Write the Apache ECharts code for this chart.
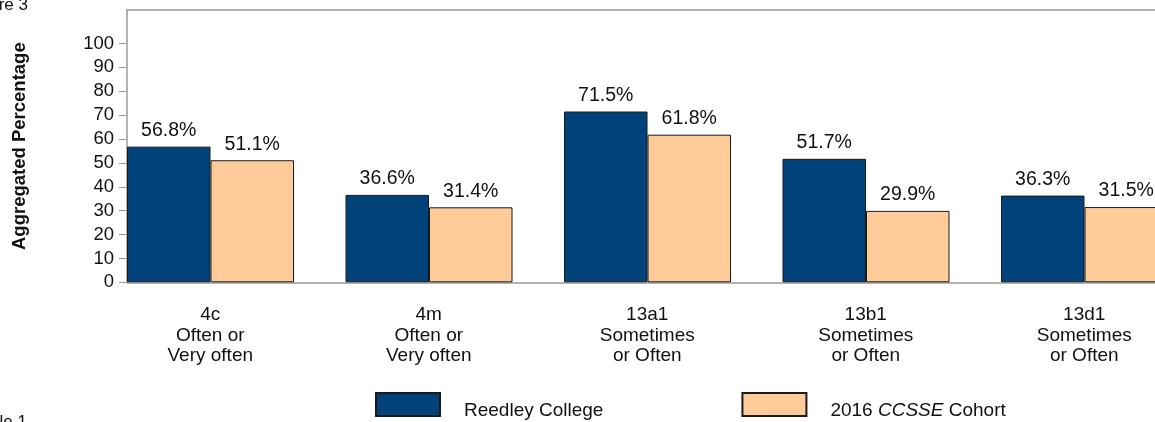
<!DOCTYPE html>
<html>
<head>
<meta charset="utf-8">
<script src="https://cdn.jsdelivr.net/npm/echarts@6/dist/echarts.min.js"></script>
<style>
html,body{margin:0;padding:0;background:#fff;}
#chart{width:1155px;height:422px;}
</style>
</head>
<body>
<div id="chart"></div>
<script>
const categories = ['4c\nOften or\nVery often', '4m\nOften or\nVery often', '13a1\nSometimes\nor Often', '13b1\nSometimes\nor Often', '13d1\nSometimes\nor Often'];
const collegeValues = [56.8, 36.6, 71.5, 51.7, 36.3];
const cohortValues = [51.1, 31.4, 61.8, 29.9, 31.5];
const spacerValues = [null, null, null, null, null];
const yTicks = [0, 10, 20, 30, 40, 50, 60, 70, 80, 90, 100];
const seriesNames = ['Reedley College', '2016 CCSSE Cohort'];

const FONT = '"Liberation Sans", Arial, sans-serif';
const chart = echarts.init(document.getElementById('chart'));
const labelCfg = {
  show: true, position: 'top', distance: 6,
  fontFamily: FONT, fontSize: 19.5, color: '#111',
  formatter: p => p.value.toFixed(1) + '%'
};
chart.setOption({
  animation: false,
  backgroundColor: '#fff',
  grid: { left: 127, top: 10, width: 1092.5, height: 272.3, containLabel: false, outerBoundsMode: 'none' },
  xAxis: [{
    type: 'category', data: categories, position: 'bottom',
    axisLine: { show: true, lineStyle: { color: '#999', width: 1.5 } },
    axisTick: { show: false },
    axisLabel: {
      fontFamily: FONT, fontSize: 19, color: '#111', lineHeight: 20.7,
      margin: 22, interval: 0, padding: [0, 52, 0, 0]
    }
  }, {
    type: 'category', data: categories, position: 'top',
    axisLine: { show: true, lineStyle: { color: '#999', width: 1.5 } },
    axisTick: { show: false }, axisLabel: { show: false }
  }],
  yAxis: {
    type: 'value', min: 0, max: 114, interval: 10,
    name: 'Aggregated Percentage', nameLocation: 'middle', nameGap: 98,
    nameTextStyle: { fontFamily: FONT, fontSize: 18.5, fontWeight: 'bold', color: '#111' },
    axisLine: { show: true, lineStyle: { color: '#999', width: 1.5 } },
    axisTick: { show: true, length: 8, customValues: yTicks, lineStyle: { color: '#999' } },
    axisLabel: { fontFamily: FONT, fontSize: 18.5, color: '#111', margin: 13, customValues: yTicks },
    splitLine: { show: false }
  },
  legend: {
    data: seriesNames, left: 370, top: 387,
    itemWidth: 64, itemHeight: 23, itemGap: 138,
    icon: 'rect',
    textStyle: {
      fontFamily: FONT, fontSize: 19, color: '#111', padding: [12, 0, 0, 19],
      rich: { i: { fontFamily: FONT, fontSize: 19, fontStyle: 'italic', color: '#111' },
              n: { fontFamily: FONT, fontSize: 19, color: '#111' } }
    },
    formatter: name => name === '2016 CCSSE Cohort' ? '{n|2016 }{i|CCSSE}{n| Cohort}' : name
  },
  series: [{
    name: seriesNames[0], type: 'bar', data: collegeValues,
    barWidth: 83.5, barGap: '0%', barCategoryGap: '0%',
    itemStyle: { color: '#02427A', borderColor: '#1a1a1a', borderWidth: 1 },
    label: labelCfg
  }, {
    name: seriesNames[1], type: 'bar', data: cohortValues,
    barWidth: 83.5, barGap: '0%', barCategoryGap: '0%',
    itemStyle: { color: '#FFCB99', borderColor: '#1a1a1a', borderWidth: 1 },
    label: labelCfg
  }, {
    name: 'spacer', type: 'bar', data: spacerValues,
    barWidth: 51.5, barGap: '0%', barCategoryGap: '0%',
    itemStyle: { color: 'transparent' }, silent: true
  }],
  graphic: [{
    type: 'text', right: 1127, top: -3,
    style: { text: 'Figure 3', fontFamily: FONT, fontSize: 17, fill: '#111' }
  }, {
    type: 'text', right: 1128, top: 414,
    style: { text: 'Table 1', fontFamily: FONT, fontSize: 17, fill: '#111' }
  }]
});
</script>
</body>
</html>
